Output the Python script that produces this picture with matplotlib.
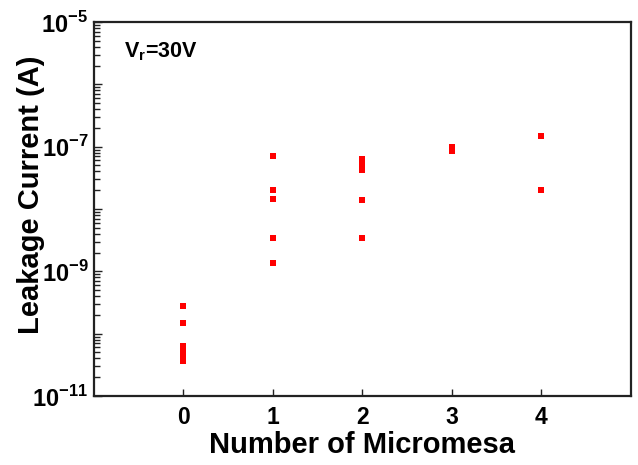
import numpy as np
import matplotlib
matplotlib.use("Agg")
import matplotlib.pyplot as plt
from matplotlib.ticker import LogLocator, FixedLocator, FuncFormatter, NullFormatter

plt.rcParams['font.family'] = ['Liberation Sans', 'DejaVu Sans']
plt.rcParams['mathtext.fontset'] = 'custom'
plt.rcParams['mathtext.rm'] = 'Liberation Sans:bold'
plt.rcParams['mathtext.bf'] = 'Liberation Sans:bold'

n_micromesa = [0, 0, 0, 0, 0, 0,
               1, 1, 1, 1, 1,
               2, 2, 2, 2, 2,
               3, 3,
               4, 4]
leakage = [2.8e-10, 1.5e-10, 6.4e-11, 5.3e-11, 4.4e-11, 3.6e-11,
           7.2e-8, 2.0e-8, 1.45e-8, 3.4e-9, 1.35e-9,
           6.4e-8, 5.3e-8, 4.3e-8, 1.4e-8, 3.4e-9,
           1.0e-7, 8.6e-8,
           1.5e-7, 2.0e-8]
x_ticks = [0, 1, 2, 3, 4]
y_labelled = [1e-5, 1e-7, 1e-9, 1e-11]

fig = plt.figure(figsize=(6.38, 4.65), dpi=100)
ax = fig.add_axes([0.1473, 0.1484, 0.8417, 0.8043])

ax.plot(n_micromesa, leakage, linestyle='none', marker='s', markersize=4.8,
        color='#ff0000', markeredgewidth=0)

ax.set_yscale('log')
ax.set_xlim(-1, 5)
ax.set_ylim(1e-11, 1e-5)

ax.xaxis.set_major_locator(FixedLocator(x_ticks))
ax.yaxis.set_major_locator(LogLocator(base=10, numticks=20))
ax.yaxis.set_minor_locator(LogLocator(base=10, subs=np.arange(2, 10), numticks=20))


def fmt(v, pos):
    e = int(round(np.log10(v)))
    if any(abs(v - t) / t < 1e-6 for t in y_labelled):
        return r'$10^{%d}$' % e
    return ''


ax.yaxis.set_major_formatter(FuncFormatter(fmt))
ax.yaxis.set_minor_formatter(NullFormatter())

ax.tick_params(axis='both', which='both', direction='in', top=False, right=False,
               color='#222222')
ax.tick_params(axis='y', which='major', length=6, width=1, labelsize=17, pad=4)
ax.tick_params(axis='y', which='minor', length=4, width=1)
ax.tick_params(axis='x', which='major', length=5, width=1, labelsize=16.5, pad=7)
for lab in ax.get_xticklabels():
    lab.set_fontweight('bold')

for s in ax.spines.values():
    s.set_linewidth(1.6)
    s.set_color('#222222')

ax.set_xlabel('Number of Micromesa', fontsize=21, fontweight='bold', labelpad=2)
ax.set_ylabel('Leakage Current (A)', fontsize=21, fontweight='bold')
ax.yaxis.set_label_coords(-0.092, 0.537)

ax.text(0.055, 0.92, r'V$_\mathregular{r}$=30V', transform=ax.transAxes,
        fontsize=15.5, fontweight='bold', va='center', ha='left')

fig.savefig('out.png', dpi=100)
